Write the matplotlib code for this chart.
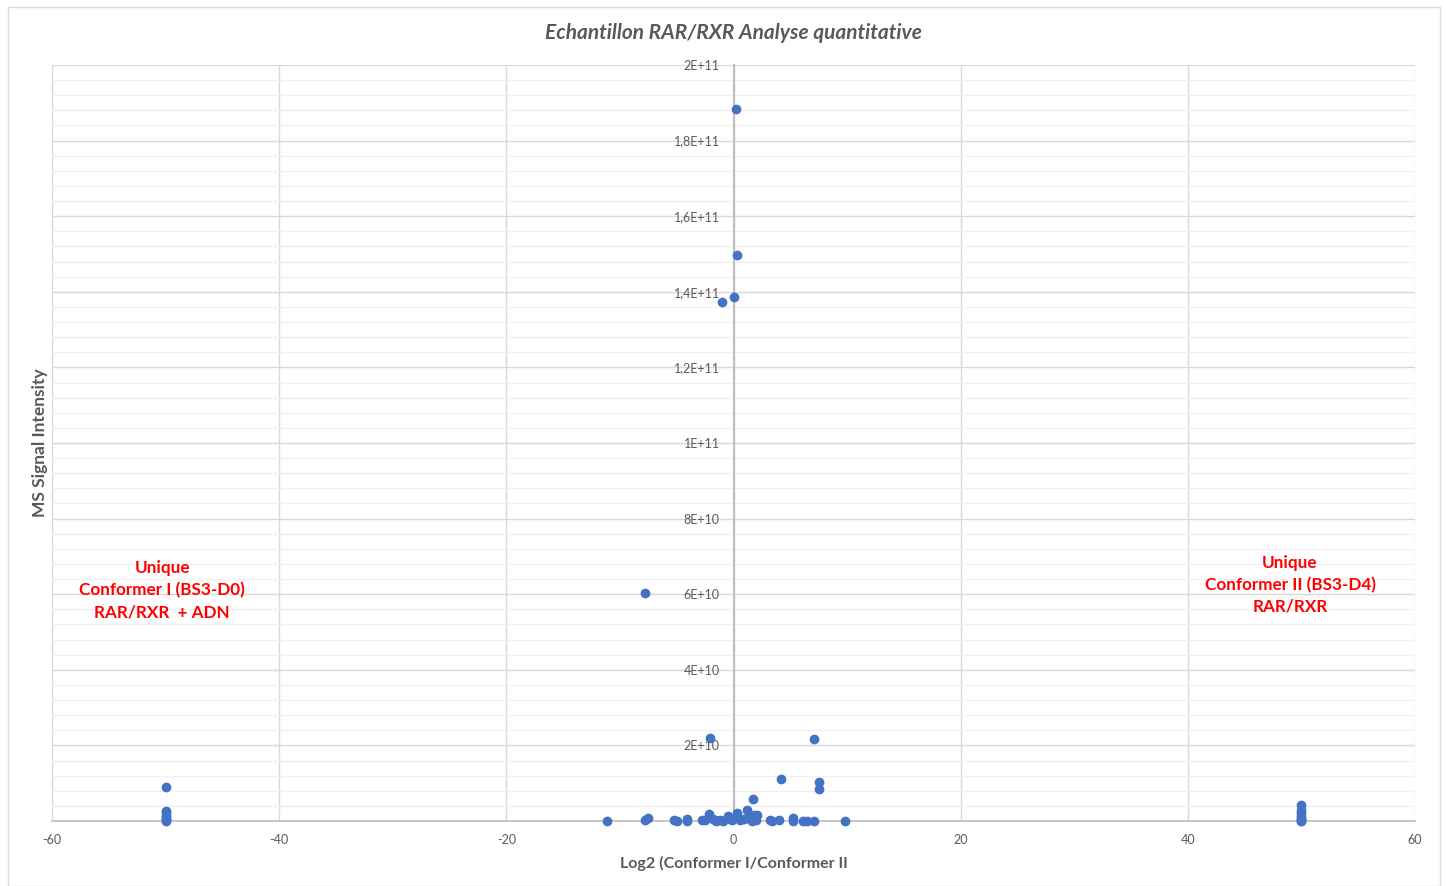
import numpy as np
import matplotlib.pyplot as plt
from matplotlib.patches import Rectangle

plt.rcParams['font.family'] = ['Lato', 'DejaVu Sans']
plt.rcParams['axes.unicode_minus'] = False

# log2 ratio (x) and MS signal intensity in units of 1E10 (y)
x_center = [0.26, 0.35, 0.0, -0.97, -7.83, -2.1, 7.13, 4.2, 7.57, 7.57, 1.76]
y_center = [18.84, 14.97, 13.86, 13.73, 6.03, 2.20, 2.17, 1.11, 1.03, 0.85, 0.58]

x_base = [-11.1, -7.8, -7.5, -5.2, -5.0, -4.1, -4.1, -2.8, -2.2, -2.5, -1.8, -1.5,
          -1.2, -0.9, -0.5, -0.3, -0.1, 0.3, 0.6, 0.9, 1.2, 1.4, 1.6, 1.8, 2.1, 2.0,
          3.2, 3.4, 4.0, 5.2, 5.2, 6.1, 6.5, 7.1, 9.8]
y_base = [0.0, 0.02, 0.08, 0.02, 0.0, 0.05, 0.0, 0.02, 0.18, 0.03, 0.04, 0.0,
          0.03, 0.01, 0.12, 0.05, 0.02, 0.22, 0.03, 0.05, 0.28, 0.08, 0.0, 0.15, 0.17, 0.03,
          0.02, 0.0, 0.02, 0.07, 0.01, 0.0, 0.0, 0.01, 0.0]

x_left = [-50] * 8
y_left = [0.9, 0.27, 0.2, 0.14, 0.09, 0.05, 0.02, 0.0]
x_right = [50] * 8
y_right = [0.42, 0.28, 0.2, 0.13, 0.08, 0.04, 0.01, 0.0]

xs = np.array(x_center + x_base + x_left + x_right)
ys = np.array(y_center + y_base + y_left + y_right) * 1e10

y_ticks = np.arange(0, 2.01e11, 2e10)
y_labels = ['0', '2E+10', '4E+10', '6E+10', '8E+10', '1E+11',
            '1,2E+11', '1,4E+11', '1,6E+11', '1,8E+11', '2E+11']

fig = plt.figure(figsize=(14.47, 8.86), dpi=100)
fig.patches.append(Rectangle((8 / 1447, 0), 1432 / 1447, 879 / 886, transform=fig.transFigure,
                             fill=False, edgecolor='#d9d9d9', linewidth=1))
ax = fig.add_axes([52 / 1447, 65 / 886, 1363 / 1447, 756 / 886])

ax.set_xlim(-60, 60)
ax.set_ylim(0, 2e11)
ax.set_xticks(np.arange(-60, 61, 20))
ax.set_yticks(y_ticks)
ax.set_yticks(np.arange(0, 2.01e11, 4e9), minor=True)
ax.set_yticklabels(y_labels)

ax.grid(True, which='major', color='#d9d9d9', linewidth=1)
ax.grid(True, which='minor', axis='y', color='#f0f0f0', linewidth=1)
ax.set_axisbelow(True)

for s in ['top', 'right']:
    ax.spines[s].set_visible(False)
ax.spines['left'].set_position(('data', 0))
ax.spines['left'].set_color('#bfbfbf')
ax.spines['left'].set_linewidth(1.5)
ax.spines['bottom'].set_color('#bfbfbf')
ax.spines['bottom'].set_linewidth(1.2)
ax.tick_params(axis='both', which='both', length=0, labelsize=9, labelcolor='#595959')
ax.tick_params(axis='y', pad=10)
ax.tick_params(axis='x', pad=9)

ax.scatter(xs, ys, s=36, color='#4472C4', zorder=3, clip_on=False)

ax.set_title('Echantillon RAR/RXR Analyse quantitative', fontsize=15, fontstyle='italic',
             fontweight='bold', color='#595959', pad=18.5)
ax.set_xlabel('Log2 (Conformer I/Conformer II', fontsize=11.5, fontweight='bold', color='#595959', labelpad=7.5)
fig.text(40 / 1447, 1 - 443 / 886, 'MS Signal Intensity', rotation=90, ha='center', va='center',
         fontsize=12.5, fontweight='bold', color='#595959')

ax.text(-50.3, 6.1e10, 'Unique\nConformer I (BS3-D0)\nRAR/RXR  + ADN', ha='center', va='center',
        color='#ff0000', fontsize=12.3, fontweight='bold', linespacing=1.45)
ax.text(49.0, 6.25e10, 'Unique\nConformer II (BS3-D4)\nRAR/RXR', ha='center', va='center',
        color='#ff0000', fontsize=12.3, fontweight='bold', linespacing=1.45)

fig.savefig('out.png', dpi=100)
